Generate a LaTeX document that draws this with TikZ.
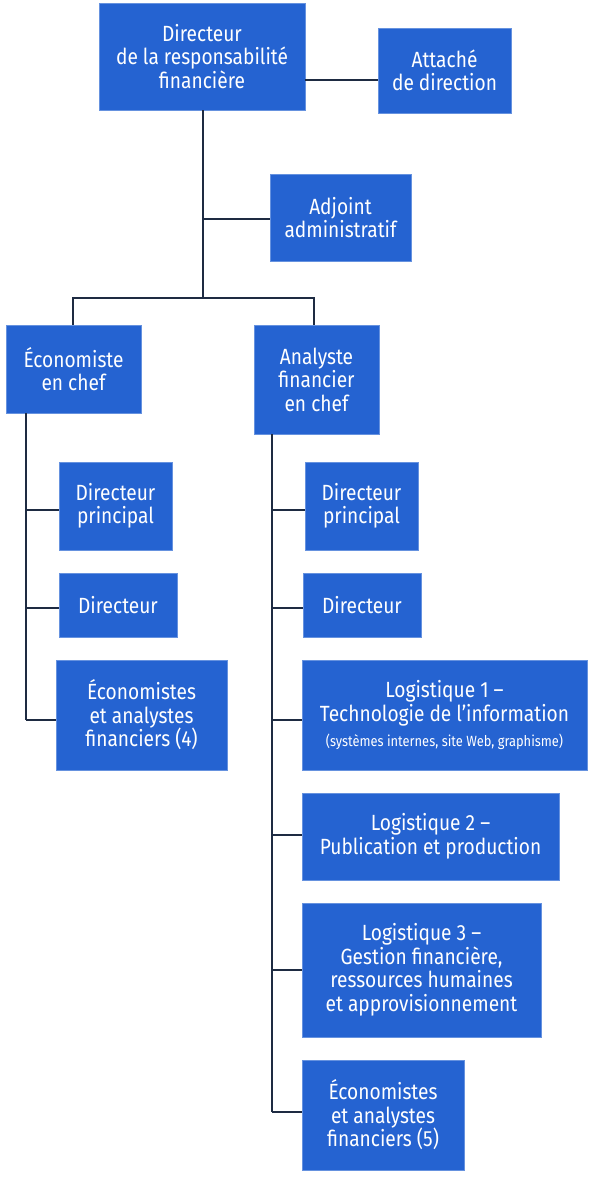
\documentclass[tikz,border=0pt]{standalone}
\usepackage{fontspec}
\setmainfont{Fira Sans}[FakeStretch=0.87]
\definecolor{boxblue}{HTML}{2563D1}
\definecolor{linecol}{HTML}{1E2B42}
\tikzset{
  box/.style={fill=boxblue, draw=boxblue!70!white, line width=0.6pt, text=white, align=center, inner sep=0pt,
    font=\fontsize{22}{23.5}\selectfont},
  conn/.style={draw=linecol, line width=2pt}
}
\begin{document}
\begin{tikzpicture}[x=1pt,y=-1pt]
\useasboundingbox (0,0) rectangle (593,1177);
\fill[white] (0,0) rectangle (593,1177);
\node[box, minimum width=206, minimum height=107] (dir) at (202,56.5) {Directeur\\de la responsabilité\\financière};
\node[box, minimum width=133, minimum height=85] (att) at (444.5,70.5) {Attaché\\de direction};
\node[box, minimum width=141, minimum height=87] (adj) at (340.5,217.5) {Adjoint\\administratif};
\node[box, minimum width=135, minimum height=88] (eco) at (73.5,369) {Économiste\\en chef};
\node[box, minimum width=125, minimum height=109] (ana) at (316.5,379.5) {Analyste\\financier\\en chef};
\node[box, minimum width=113, minimum height=88] (ldp) at (115.5,506) {Directeur\\principal};
\node[box, minimum width=118, minimum height=64] (ldir) at (118,605) {Directeur};
\node[box, minimum width=171, minimum height=110] (leco) at (141.5,715) {Économistes\\et analystes\\financiers (4)};
\node[box, minimum width=113, minimum height=88] (rdp) at (361.5,506) {Directeur\\principal};
\node[box, minimum width=118, minimum height=64] (rdir) at (362,605) {Directeur};
\node[box, minimum width=285, minimum height=110] (log1) at (444.5,715) {Logistique 1 –\\Technologie de l’information\\[2pt]{\fontsize{14.8}{17}\selectfont (systèmes internes, site Web, graphisme)}};
\node[box, minimum width=257, minimum height=87] (log2) at (430.5,836.5) {Logistique 2 –\\Publication et production};
\node[box, minimum width=239, minimum height=134] (log3) at (421.5,970) {Logistique 3 –\\Gestion financière,\\ressources humaines\\et approvisionnement};
\node[box, minimum width=162, minimum height=110] (reco) at (383,1115) {Économistes\\et analystes\\financiers (5)};

\coordinate (top) at (203,298);
\coordinate (hl) at (73,298);
\coordinate (hr) at (314,298);
\coordinate (ls) at (26,413);
\coordinate (rs) at (272,434);

\draw[conn] (dir.east |- 0,80) -- (att.west |- 0,80);
\draw[conn] (dir.south -| top) -- (top);
\draw[conn] (top |- 0,219) -- (adj.west |- 0,219);
\draw[conn] (hl |- eco.north) -- (hl) -- (hr) -- (hr |- ana.north);
\draw[conn] (ls) -- (ls |- 0,720);
\draw[conn] (ls |- 0,510) -- (ldp.west |- 0,510);
\draw[conn] (ls |- 0,608) -- (ldir.west |- 0,608);
\draw[conn] (ls |- 0,720) -- (leco.west |- 0,720);
\draw[conn] (rs) -- (rs |- 0,1112);
\draw[conn] (rs |- 0,510) -- (rdp.west |- 0,510);
\draw[conn] (rs |- 0,608) -- (rdir.west |- 0,608);
\draw[conn] (rs |- 0,720) -- (log1.west |- 0,720);
\draw[conn] (rs |- 0,835) -- (log2.west |- 0,835);
\draw[conn] (rs |- 0,970) -- (log3.west |- 0,970);
\draw[conn] (rs |- 0,1112) -- (reco.west |- 0,1112);
\end{tikzpicture}
\end{document}
